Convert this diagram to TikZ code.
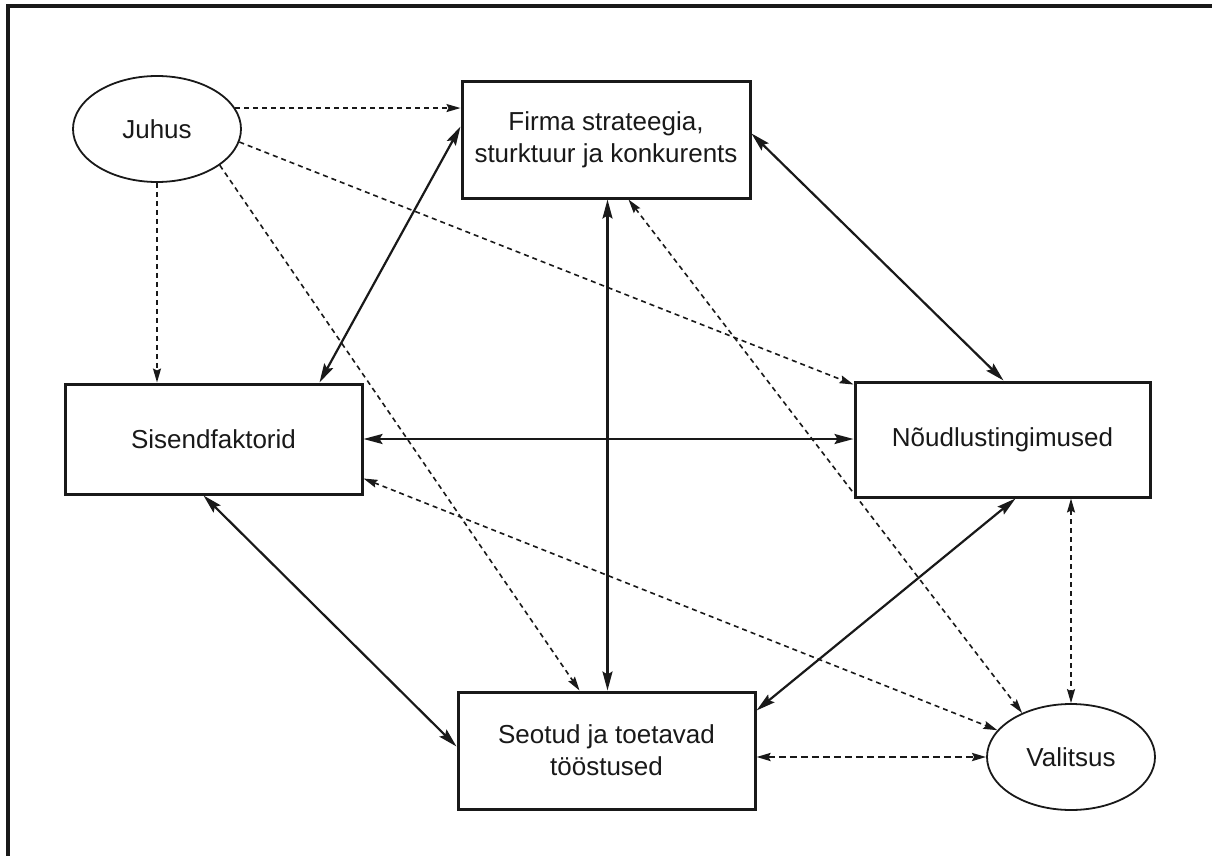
\documentclass[tikz,border=0pt]{standalone}
\usepackage{fontspec}
\setmainfont{Liberation Sans}
\usetikzlibrary{shapes.geometric,arrows.meta}
\definecolor{ink}{RGB}{25,25,25}
\begin{document}
\begin{tikzpicture}[x=1pt,y=-1pt,
  box/.style={draw=ink,line width=3pt,rectangle,inner sep=0pt,font=\fontsize{26}{32}\selectfont,align=center,text=ink},
  oval/.style={draw=ink,line width=1.8pt,ellipse,inner sep=0pt,minimum width=168pt,minimum height=106pt,font=\fontsize{26}{32}\selectfont,text=ink},
  bigtip/.tip={Stealth[length=19pt,width=10pt,inset=3pt]},
  smalltip/.tip={Stealth[length=14pt,width=8pt,inset=2pt]},
  solidlink/.style={draw=ink,line width=2.2pt,bigtip-bigtip},
  dashlink/.style={draw=ink,line width=1.6pt,dash pattern=on 5pt off 4pt,smalltip-smalltip},
  dashone/.style={draw=ink,line width=1.6pt,dash pattern=on 5pt off 4pt,-smalltip},
  dashthick/.style={draw=ink,line width=2.4pt,dash pattern=on 7pt off 4pt,smalltip-smalltip}
]
\useasboundingbox (0,0) rectangle (1212,856);
\fill[white] (0,0) rectangle (1212,856);
% frame
\draw[ink,line width=4pt] (8,856) -- (8,6) -- (1212,6);

% nodes
\node[oval] (juhus) at (157,129) {Juhus};
\node[box,minimum width=288pt,minimum height=116pt] (firma) at (606,140) {Firma strateegia,\\sturktuur ja konkurents};
\node[box,minimum width=297pt,minimum height=110pt] (sisend) at (213.5,439) {Sisendfaktorid};
\node[box,minimum width=295pt,minimum height=115pt] (noud) at (1002.5,439.5) {Nõudlustingimused};
\node[box,minimum width=297pt,minimum height=117pt] (seotud) at (606.5,750.5) {Seotud ja toetavad\\tööstused};
\node[oval] (valitsus) at (1071,757) {Valitsus};

% links from Juhus
\draw[dashone] (juhus.15) -- (juhus.15 -| firma.west);
\draw[dashone] (juhus.south) -- (juhus.south |- sisend.north);
\draw[dashone] (juhus.-9) -- ([yshift=-4pt]noud.north west);
\draw[dashone] (juhus.-30.5) -- ([xshift=123pt]seotud.north west);

% solid links
\draw[solidlink] ([yshift=-46pt]firma.north west) -- ([xshift=-44pt]sisend.north east);
\draw[solidlink] ([xshift=147pt]firma.south west) -- ([xshift=147pt]firma.south west |- seotud.north);
\draw[solidlink] ([yshift=-53pt]firma.north east) -- ([xshift=150pt]noud.north west);
\draw[solidlink] (sisend.east) -- (sisend.east -| noud.west);
\draw[solidlink] ([xshift=140pt]sisend.south west) -- ([yshift=-56pt]seotud.north west);
\draw[solidlink] ([xshift=162pt]noud.south west) -- ([yshift=-20pt]seotud.north east);

% dashed links to Valitsus
\draw[dashlink] ([xshift=168pt]firma.south west) -- (valitsus.138);
\draw[dashlink] ([yshift=17pt]sisend.south east) -- (valitsus.160);
\draw[dashlink] (valitsus.north |- noud.south) -- (valitsus.north);
\draw[dashthick] (valitsus.west -| seotud.east) -- (valitsus.west);
\end{tikzpicture}
\end{document}
